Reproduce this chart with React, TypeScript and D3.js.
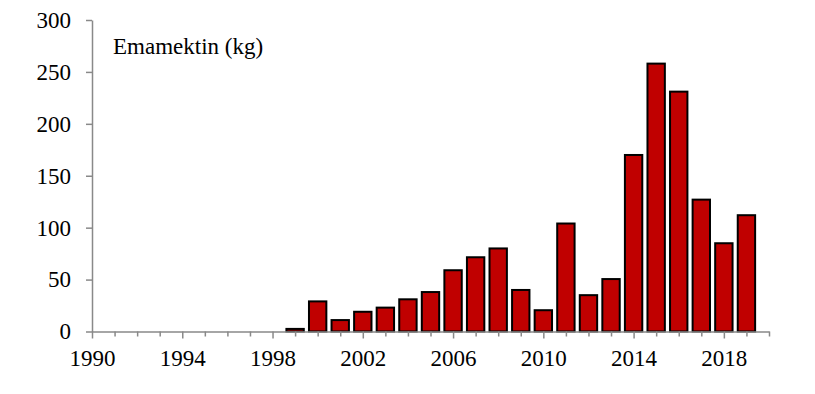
import { useEffect, useRef } from "react";
import * as d3 from "d3";

// yearly use
const years = [1999, 2000, 2001, 2002, 2003, 2004, 2005, 2006, 2007, 2008, 2009, 2010, 2011, 2012, 2013, 2014, 2015, 2016, 2017, 2018, 2019];
const kg = [2.5, 29, 11, 19, 23, 31, 38, 59, 71.5, 80, 40, 20.5, 104, 35, 50.5, 170, 258, 231, 127, 85, 112];
const yTicks = [0, 50, 100, 150, 200, 250, 300];
const xLabelYears = [1990, 1994, 1998, 2002, 2006, 2010, 2014, 2018];

const FONT = "Liberation Serif, Times New Roman, serif";
const FS = "23px";
const AXIS = "#898989";

const App = () => {
    const ref = useRef<SVGSVGElement | null>(null);

    useEffect(() => {
        if (!ref.current) return;
        const svg = d3.select(ref.current);
        svg.selectAll("*").remove();

        const x = d3.scaleLinear().domain([1990, 2020]).range([92, 769]);
        const y = d3.scaleLinear().domain([0, 300]).range([331.5, 20]);
        const step = x(1991) - x(1990);
        const bw = step * 0.77;

        // bars
        svg.append("g")
            .selectAll("rect")
            .data(years)
            .enter().append("rect")
            .attr("x", d => x(d) - bw / 2)
            .attr("y", (_, i) => y(kg[i]))
            .attr("width", bw)
            .attr("height", (_, i) => y(0) - y(kg[i]))
            .attr("fill", "#C00000")
            .attr("stroke", "#000")
            .attr("stroke-width", 2);

        // y axis
        const gy = svg.append("g")
            .attr("transform", `translate(${x(1990)},0)`)
            .call(d3.axisLeft(y).tickValues(yTicks).tickSize(6).tickSizeOuter(0).tickPadding(15));

        // x axis, one tick per year, labels every 4 years
        const allYears = d3.range(1990, 2021);
        const gx = svg.append("g")
            .attr("transform", `translate(0,${y(0)})`)
            .call(d3.axisBottom(x)
                .tickValues(allYears)
                .tickSize(5)
                .tickSizeOuter(0)
                .tickFormat(d => (xLabelYears.includes(+d) ? String(d) : "")));
        gx.selectAll<SVGLineElement, number>(".tick line")
            .attr("y2", d => (xLabelYears.includes(d) ? 7 : 5));
        gx.selectAll("text").attr("y", 34.5).attr("dy", 0);

        [gx, gy].forEach(g => {
            g.attr("font-family", FONT).attr("font-size", FS);
            g.selectAll("text").attr("fill", "#000");
            g.select(".domain").attr("stroke", AXIS).attr("stroke-width", 1.5);
            g.selectAll(".tick line").attr("stroke", AXIS).attr("stroke-width", 1.5);
        });

        // series label
        svg.append("text")
            .attr("x", 113).attr("y", 54)
            .attr("font-family", FONT).attr("font-size", FS)
            .text("Emamektin (kg)");
    }, []);

    return (
        <svg ref={ref} width={815} height={394}
            style={{ position: "absolute", left: 0, top: 0, background: "#fff" }} />
    );
};

export default App;
